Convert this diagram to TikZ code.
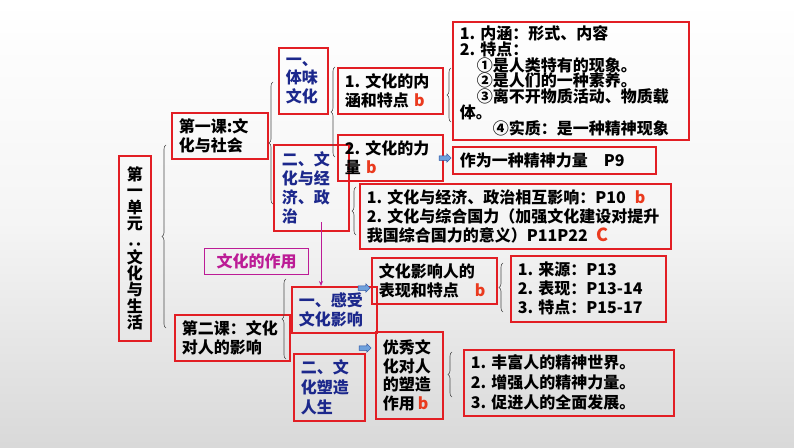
\documentclass[tikz,border=0pt]{standalone}
\usepackage{fontspec}
\usepackage{graphicx}
\setmainfont{Noto Sans CJK SC}
\usetikzlibrary{decorations.pathreplacing,shapes.arrows,arrows.meta}
\definecolor{boxred}{RGB}{226,30,36}
\definecolor{navy}{RGB}{28,40,140}
\definecolor{letred}{RGB}{234,58,30}
\definecolor{magen}{RGB}{188,28,150}
\definecolor{arrowfill}{RGB}{110,160,220}
\definecolor{arrowline}{RGB}{40,80,160}
\newcommand{\lb}{{\color{letred}b}}
\begin{document}
\begin{tikzpicture}[x=1pt,y=-1pt,
  box/.style={draw=boxred, line width=1.6pt, anchor=north west, inner xsep=7pt, inner ysep=0pt,
    align=left, text=black, font=\bfseries\fontsize{16}{19.5}\selectfont},
  bluetext/.style={text=navy},
  bracestyle/.style={decorate, decoration={brace, amplitude=4pt}, draw=black!70, line width=0.6pt},
  blockarrow/.style={shape=single arrow, draw=arrowline, fill=arrowfill, line width=0.5pt,
    minimum height=12pt, inner sep=0pt, inner ysep=2pt, single arrow head extend=2pt},
  magline/.style={draw=magen, line width=1pt, -{Stealth[length=5pt,width=4pt]}}]
\shade[top color=white, bottom color=black!15, middle color=black!4] (0,0) rectangle (794,447);
\useasboundingbox (0,0) rectangle (794,447);

% left column
\node[box, minimum width=32pt, text width=18pt, minimum height=185pt, align=center,
  font=\bfseries\fontsize{16}{16.3}\selectfont] (unit) at (118,155)
  {第\\一\\单\\元\\\rotatebox[origin=c]{90}{：}\\文\\化\\与\\生\\活};

% lessons
\node[box, minimum width=96pt, text width=82pt, minimum height=46pt] (les1) at (171,112)
  {第一课:文\\化与社会};
\node[box, minimum width=115pt, text width=101pt, minimum height=46pt] (les2) at (174,314)
  {第二课：文化\\对人的影响};

% sections
\node[box, bluetext, minimum width=49pt, text width=35pt, minimum height=66pt,
  font=\bfseries\fontsize{16}{18.5}\selectfont] (tw) at (278,47) {一、\\体味\\文化};
\node[box, bluetext, minimum width=75pt, text width=59pt, inner xsep=8pt, minimum height=86pt,
  font=\bfseries\fontsize{16}{19.3}\selectfont] (jj) at (273,144) {\raisebox{0pt}{}二、文\\化与经\\济、政\\治};
\node[box, bluetext, minimum width=85pt, text width=71pt, minimum height=46pt] (kg) at (291,286)
  {一、感受\\文化影响};
\node[box, bluetext, minimum width=71pt, text width=57pt, minimum height=67pt,
  font=\bfseries\fontsize{16}{20}\selectfont] (sz) at (293,353) {二、文\\化塑造\\人生};

% magenta label
\node[box, draw=magen, line width=1pt, text=magen, align=center, minimum width=104pt,
  text width=90pt, minimum height=26pt] (zy) at (204,248) {文化的作用};

% topics
\node[box, minimum width=105pt, text width=91pt, minimum height=46pt] (nh) at (337,67)
  {1.~文化的内\\涵和特点~\lb};
\node[box, minimum width=105pt, text width=91pt, minimum height=46pt] (fl) at (337,134)
  {2.~文化的力\\量~\lb};
\node[box, minimum width=125pt, text width=111pt, minimum height=46pt] (yx) at (371,257)
  {文化影响人的\\表现和特点\hspace{16pt}\lb};
\node[box, minimum width=67pt, text width=53pt, minimum height=87pt,
  font=\bfseries\fontsize{16}{18.8}\selectfont] (yxwh) at (375,331)
  {优秀文\\化对人\\的塑造\\作用\hspace{3pt}\lb};

% details
\node[box, minimum width=236pt, text width=222pt, minimum height=118pt,
  font=\bfseries\fontsize{16}{15.9}\selectfont] (big) at (452,21)
  {1.~内涵：形式、内容\\
   2.~特点：\\
   \hspace*{17pt}①是人类特有的现象。\\
   \hspace*{17pt}②是人们的一种素养。\\
   \hspace*{17pt}③离不开物质活动、物质载\\
   体。\\
   \hspace*{33pt}④实质：是一种精神现象};
\node[box, minimum width=203pt, text width=189pt, minimum height=27pt] (p9) at (452,146)
  {作为一种精神力量\hspace{16pt}P9};
\node[box, minimum width=311pt, text width=297pt, minimum height=65pt,
  font=\bfseries\fontsize{16}{19}\selectfont] (jjt) at (359,183)
  {1.~文化与经济、政治相互影响：P10\hspace{9pt}\lb\\
   2.~文化与综合国力（加强文化建设对提升\\
   我国综合国力的意义）P11P22\hspace{9pt}{\color{letred}\fontsize{18}{19}\selectfont C}};
\node[box, minimum width=155pt, text width=141pt, minimum height=66pt,
  font=\bfseries\fontsize{16}{19}\selectfont] (ly) at (510,255)
  {1.~来源：P13\\2.~表现：P13-14\\3.~特点：P15-17};
\node[box, minimum width=210pt, text width=196pt, minimum height=66pt,
  font=\bfseries\fontsize{16}{20}\selectfont] (ff) at (463,349)
  {1.~丰富人的精神世界。\\2.~增强人的精神力量。\\3.~促进人的全面发展。};

% braces
\draw[bracestyle] (166,328) -- (166,145);
\draw[bracestyle] (273,204) -- (273,82);
\draw[bracestyle] (335,157) -- (335,67);
\draw[bracestyle] (451,122) -- (451,68);
\draw[bracestyle] (356,235) -- (356,187);
\draw[bracestyle] (286,359) -- (286,279);
\draw[bracestyle] (503,312) -- (503,263);
\draw[bracestyle] (452,397) -- (452,352);

% block arrows
\node[blockarrow] (ar1) at (444,158) {};
\node[blockarrow] (ar2) at (363,288) {};
\node[blockarrow] (ar3) at (364,348) {};

% magenta arrow
\coordinate (mstart) at (321,222);
\draw[magline] (mstart) -- (mstart |- kg.north);
\end{tikzpicture}
\end{document}
